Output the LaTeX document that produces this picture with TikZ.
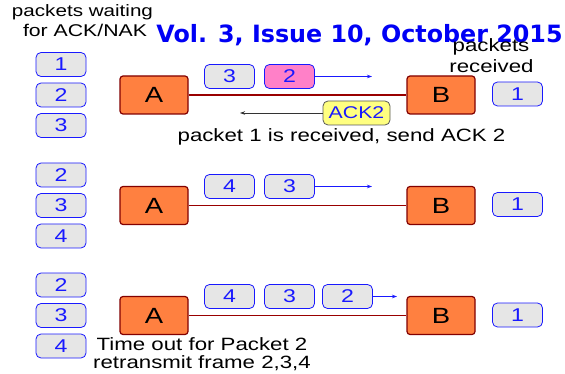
\documentclass[tikz,border=0pt]{standalone}
\usepackage{fontspec}
\setmainfont{Liberation Sans}[FakeStretch=1.25]
\newfontfamily\titlefont{DejaVu Sans Bold}
\usetikzlibrary{arrows.meta}
\definecolor{pktfill}{RGB}{230,230,230}
\definecolor{pktblue}{RGB}{25,25,255}
\definecolor{stnfill}{RGB}{255,128,64}
\definecolor{stnline}{RGB}{130,0,0}
\definecolor{linkred}{RGB}{153,0,0}
\definecolor{pinkfill}{RGB}{255,128,200}
\definecolor{ackfill}{RGB}{255,255,128}
\definecolor{titleblue}{RGB}{0,0,245}
\tikzset{
  pkt/.style={draw=pktblue, fill=pktfill, rounded corners=5pt, minimum width=50pt,
    minimum height=24pt, inner sep=0pt, text=pktblue, line width=0.8pt,
    font=\fontsize{18.5}{19}\selectfont},
  stn/.style={draw=stnline, fill=stnfill, rounded corners=3pt, minimum width=68pt,
    minimum height=38pt, inner sep=0pt, line width=1.2pt,
    font=\fontsize{22}{24}\selectfont},
  ackbox/.style={draw=black!65, fill=ackfill, rounded corners=5pt, minimum width=67pt,
    minimum height=24pt, inner sep=0pt, text=pktblue, line width=0.8pt,
    font=\fontsize{17}{18}\selectfont},
  link/.style={draw=linkred, line width=1.3pt},
  flow/.style={draw=pktblue, line width=0.7pt, -{Stealth[length=5pt,width=3.5pt]}},
  ackarrow/.style={draw=black!80, line width=0.7pt, -{Stealth[length=5pt,width=3.5pt]}},
  txt/.style={inner sep=0pt, anchor=base, font=\fontsize{17.8}{20}\selectfont},
}
\begin{document}
\begin{tikzpicture}[x=1pt,y=-1pt]
\useasboundingbox (0,0) rectangle (565,374);
\fill[white] (0,0) rectangle (565,374);
% header texts
\node[txt, font=\fontsize{16.5}{18}\selectfont] (wait1) at (82.5,17) {packets waiting};
\node[txt, font=\fontsize{17}{18}\selectfont] (wait2) at (85,37) {for ACK/NAK};
\node[inner sep=0pt, anchor=base, text=titleblue, font=\titlefont\fontsize{23.8}{26}\selectfont] (title) at (359.5,43) {Vol. 3, Issue 10, October 2015};
\node[txt] (recv1) at (491,52) {packets};
\node[txt] (recv2) at (491.5,73) {received};
% ---------- row 1 ----------
\node[stn] (A1) at (154,95) {A};
\node[stn] (B1) at (441,95) {B};
\draw[link] (A1) -- (B1);
\node[pkt] (w11) at (61,64.5) {1};
\node[pkt] (w12) at (61,95) {2};
\node[pkt] (w13) at (61,125.5) {3};
\node[pkt] (f13) at (229.5,76.5) {3};
\node[pkt, fill=pinkfill] (f12) at (289.5,76.5) {2};
\coordinate (e1) at (372,76.5);
\draw[flow] (f12.east) -- (e1);
\node[pkt] (r11) at (517.5,94) {1};
\node[ackbox] (ack) at (356.5,113) {ACK2};
\coordinate (ae) at (240,113);
\draw[ackarrow] (ack.west) -- (ae);
\node[txt] (msg1) at (341.5,142) {packet 1 is received, send ACK 2};
% ---------- row 2 ----------
\node[stn] (A2) at (154,205.5) {A};
\node[stn] (B2) at (441,205.5) {B};
\draw[link] (A2) -- (B2);
\node[pkt] (w21) at (61,175) {2};
\node[pkt] (w22) at (61,205.5) {3};
\node[pkt] (w23) at (61,236) {4};
\node[pkt] (f24) at (229.5,186.5) {4};
\node[pkt] (f23) at (289.5,186.5) {3};
\coordinate (e2) at (372,186.5);
\draw[flow] (f23.east) -- (e2);
\node[pkt] (r21) at (517.5,204.5) {1};
% ---------- row 3 ----------
\node[stn] (A3) at (154,315.5) {A};
\node[stn] (B3) at (441,315.5) {B};
\draw[link] (A3) -- (B3);
\node[pkt] (w31) at (61,285) {2};
\node[pkt] (w32) at (61,315.5) {3};
\node[pkt] (w33) at (61,346) {4};
\node[pkt] (f34) at (229.5,296.5) {4};
\node[pkt] (f33) at (289.5,296.5) {3};
\node[pkt] (f32) at (347.5,296.5) {2};
\coordinate (e3) at (397,296.5);
\draw[flow] (f32.east) -- (e3);
\node[pkt] (r31) at (517.5,315) {1};
\node[txt] (msg3a) at (202,350) {Time out for Packet 2};
\node[txt] (msg3b) at (202,368) {retransmit frame 2,3,4};
\end{tikzpicture}
\end{document}
